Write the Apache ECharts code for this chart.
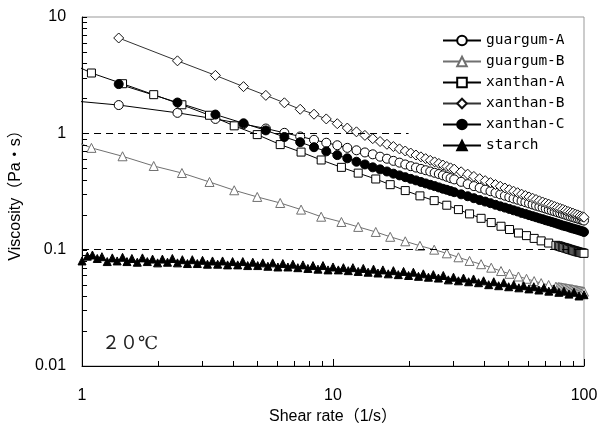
<!DOCTYPE html>
<html>
<head>
<meta charset="utf-8">
<script src="https://cdn.jsdelivr.net/npm/echarts@6/dist/echarts.min.js"></script>
<style>
html, body { margin: 0; padding: 0; background: #fff; }
#chart { width: 609px; height: 430px; }
</style>
</head>
<body>
<div id="chart"></div>
<script>
// shear rates (1/s)
var rateA = [0.82, 1.09, 1.45, 1.93, 2.5, 3.22, 4.04, 4.99, 6.16, 7.46, 8.97, 10.8, 12.6, 14.8, 16.9, 19.4, 22.2, 25.3, 28.4, 31.6, 35.0, 38.9, 42.7, 46.7, 50.5, 54.8, 59.0, 63.3, 67.5, 72.3, 77.3,
	79, 80, 81, 82, 83, 84, 85, 86, 87, 88, 89, 90, 91, 92, 93, 94, 95, 96, 97, 98, 99, 100];
var rateB = [1.4, 2.4, 3.4, 4.4, 5.4, 6.4, 7.4, 8.4, 9.4, 10.4, 11.4, 12.4, 13.4, 14.4, 15.4, 16.4, 17.4, 18.4, 19.4, 20.4,
	21.4, 22.4, 23.4, 24.4, 25.4, 26.4, 27.4, 28.4, 29.4, 30.4, 32.4, 34.4, 36.4, 38.4, 40.4, 42.4, 44.4, 46.4, 48.4, 50.4,
	52.4, 54.4, 56.4, 58.4, 60.4, 62.4, 64.4, 66.4, 68.4, 70.4, 72.4, 74.4, 76.4, 78.4, 80.4, 82.4, 84.4, 86.4, 88.4, 90.4,
	92.4, 94.4, 96.4, 98.4, 100];
var rateGA = [0.44].concat(rateB);
var rateS = [1.00, 1.05, 1.10, 1.15, 1.20, 1.26, 1.32, 1.38, 1.45, 1.51, 1.58, 1.66, 1.74, 1.82, 1.91, 2.00, 2.09, 2.19, 2.29, 2.40,
	2.51, 2.63, 2.75, 2.88, 3.02, 3.16, 3.31, 3.47, 3.63, 3.80, 3.98, 4.17, 4.37, 4.57, 4.79, 5.01, 5.25, 5.50, 5.75, 6.03,
	6.31, 6.61, 6.92, 7.24, 7.59, 7.94, 8.32, 8.71, 9.12, 9.55, 10.0, 10.5, 11.0, 11.5, 12.0, 12.6, 13.2, 13.8, 14.5, 15.1,
	15.8, 16.6, 17.4, 18.2, 19.1, 20.0, 20.9, 21.9, 22.9, 24.0, 25.1, 26.3, 27.5, 28.8, 30.2, 31.6, 33.1, 34.7, 36.3, 38.0,
	39.8, 41.7, 43.7, 45.7, 47.9, 50.1, 52.5, 55.0, 57.5, 60.3, 63.1, 66.1, 69.2, 72.4, 75.9, 79.4, 83.2, 87.1, 91.2, 95.5, 100];

// viscosity (Pa·s)
var guargumA = [2.2, 1.75, 1.50, 1.33, 1.20, 1.10, 1.01, 0.94, 0.88, 0.83, 0.79, 0.75, 0.715, 0.685, 0.66, 0.63, 0.605, 0.58, 0.56, 0.54,
	0.522, 0.508, 0.495, 0.482, 0.47, 0.458, 0.447, 0.435, 0.423, 0.412, 0.402, 0.383, 0.366, 0.352, 0.340, 0.328, 0.318, 0.308, 0.299, 0.291,
	0.283, 0.275, 0.2685, 0.262, 0.256, 0.250, 0.2445, 0.239, 0.2345, 0.230, 0.2255, 0.221, 0.217, 0.2135, 0.2095, 0.206, 0.2025, 0.1995, 0.196, 0.193,
	0.190, 0.1875, 0.185, 0.182, 0.180, 0.178];
var guargumB = [0.95, 0.75, 0.635, 0.524, 0.456, 0.382, 0.324, 0.284, 0.252, 0.221, 0.192, 0.173, 0.157, 0.142, 0.129, 0.118, 0.108, 0.100, 0.093, 0.086,
	0.080, 0.075, 0.070, 0.0655, 0.0620, 0.0588, 0.0562, 0.0537, 0.0516, 0.0497, 0.0481,
	0.0478, 0.0476, 0.0475, 0.0472, 0.0470, 0.0469, 0.0466, 0.0464, 0.0463, 0.0460, 0.0458, 0.0457, 0.0454, 0.0452, 0.0451, 0.0448, 0.0446, 0.0445, 0.0442, 0.0440, 0.0439, 0.0436];
var xanthanA = [4.4, 3.30, 2.67, 2.15, 1.76, 1.43, 1.16, 0.975, 0.80, 0.69, 0.59, 0.51, 0.455, 0.405, 0.362, 0.322, 0.290, 0.264, 0.241, 0.221,
	0.203, 0.186, 0.171, 0.159, 0.149, 0.139, 0.132, 0.125, 0.119, 0.114, 0.109,
	0.108, 0.107, 0.106, 0.105, 0.1045, 0.1035, 0.103, 0.102, 0.101, 0.1005, 0.0995, 0.099, 0.098, 0.0975, 0.097, 0.096, 0.0955, 0.095, 0.0945, 0.094, 0.0935, 0.093];
var xanthanB = [6.6, 4.2, 3.15, 2.52, 2.12, 1.83, 1.61, 1.46, 1.33, 1.21, 1.11, 1.03, 0.96, 0.90, 0.85, 0.805, 0.77, 0.735, 0.705, 0.677,
	0.651, 0.628, 0.606, 0.586, 0.568, 0.551, 0.534, 0.519, 0.505, 0.492, 0.467, 0.446, 0.426, 0.408, 0.392, 0.377, 0.363, 0.351, 0.339, 0.328,
	0.318, 0.309, 0.300, 0.292, 0.284, 0.277, 0.270, 0.263, 0.257, 0.251, 0.246, 0.240, 0.235, 0.230, 0.226, 0.222, 0.217, 0.213, 0.209, 0.206,
	0.202, 0.199, 0.195, 0.192, 0.190];
var xanthanC = [2.65, 1.84, 1.45, 1.22, 1.06, 0.93, 0.84, 0.76, 0.70, 0.65, 0.61, 0.57, 0.54, 0.51, 0.49, 0.47, 0.45, 0.435, 0.420, 0.406,
	0.394, 0.382, 0.371, 0.361, 0.352, 0.343, 0.334, 0.327, 0.319, 0.312, 0.299, 0.288, 0.277, 0.267, 0.259, 0.251, 0.243, 0.236, 0.230, 0.224,
	0.218, 0.213, 0.207, 0.203, 0.198, 0.194, 0.190, 0.186, 0.183, 0.179, 0.176, 0.173, 0.170, 0.167, 0.164, 0.161, 0.159, 0.157, 0.154, 0.152,
	0.150, 0.148, 0.146, 0.144, 0.142];
var starch = [0.080, 0.088, 0.090, 0.084, 0.087, 0.079, 0.085, 0.080, 0.086, 0.079, 0.084, 0.078, 0.085, 0.079, 0.083, 0.077, 0.083, 0.078, 0.084, 0.077,
	0.082, 0.076, 0.082, 0.076, 0.081, 0.075, 0.080, 0.075, 0.080, 0.074, 0.079, 0.074, 0.079, 0.073, 0.078, 0.073, 0.077, 0.072, 0.077, 0.071,
	0.076, 0.071, 0.075, 0.070, 0.074, 0.069, 0.073, 0.068, 0.073, 0.067, 0.071, 0.067, 0.070, 0.066, 0.070, 0.065, 0.069, 0.064, 0.068, 0.063,
	0.067, 0.062, 0.066, 0.061, 0.065, 0.060, 0.064, 0.059, 0.062, 0.058, 0.061, 0.057, 0.060, 0.055, 0.058, 0.054, 0.057, 0.053, 0.056, 0.052,
	0.054, 0.050, 0.053, 0.049, 0.052, 0.048, 0.050, 0.047, 0.049, 0.046, 0.048, 0.045, 0.047, 0.044, 0.046, 0.043, 0.044, 0.0415, 0.043, 0.040, 0.041];

// ticks
var majorX = [1, 10, 100];
var minorX = [2, 3, 4, 5, 6, 7, 8, 9, 20, 30, 40, 50, 60, 70, 80, 90];
var majorY = [0.01, 0.1, 1, 10];
var minorY = [0.02, 0.03, 0.04, 0.05, 0.06, 0.07, 0.08, 0.09, 0.2, 0.3, 0.4, 0.5, 0.6, 0.7, 0.8, 0.9, 2, 3, 4, 5, 6, 7, 8, 9];

// dashed guide lines [x from, x to, y]
var guides = [[1, 20, 1], [1, 100, 0.1]];

var names = ['guargum-A', 'guargum-B', 'xanthan-A', 'xanthan-B', 'xanthan-C', 'starch'];

function pairs(xs, ys) {
	var out = [];
	for (var i = 0; i < xs.length && i < ys.length; i++) out.push([xs[i], ys[i]]);
	return out;
}

var sansFont = "'Liberation Sans', 'Noto Sans CJK JP', sans-serif";

function mkSeries(name, xs, ys, symbol, size, fill, stroke, lineColor) {
	return {
		name: name,
		type: 'line',
		data: pairs(xs, ys),
		symbol: symbol,
		symbolSize: size,
		clip: true,
		silent: true,
		itemStyle: { color: fill, borderColor: stroke, borderWidth: 1 },
		lineStyle: { color: lineColor, width: 1 },
		emphasis: { disabled: true }
	};
}

// inward ticks at 1..9 of each decade, drawn through the axes' own scale
function tickSeries(axis) {
	var vals = axis === 'x' ? majorX.concat(minorX) : majorY.concat(minorY);
	var majors = axis === 'x' ? majorX : majorY;
	return {
		type: 'custom', silent: true, z: 5, clip: false,
		data: vals.map(function (v) { return [v, majors.indexOf(v) >= 0 ? 1 : 0]; }),
		encode: axis === 'x' ? { x: 0 } : { y: 0 },
		renderItem: function (params, api) {
			var v = api.value(0), major = api.value(1);
			var p, shape;
			if (axis === 'x') {
				p = api.coord([v, 0.01]);
				var x = Math.round(p[0]) + 0.5;
				shape = { x1: x, y1: p[1], x2: x, y2: p[1] - (major ? 7 : 5) };
			} else {
				p = api.coord([1, v]);
				var y = Math.round(p[1]) + 0.5;
				shape = { x1: p[0], y1: y, x2: p[0] + 5, y2: y };
			}
			return { type: 'line', shape: shape, style: { stroke: '#000', lineWidth: 1 } };
		}
	};
}

var chart = echarts.init(document.getElementById('chart'), null, { renderer: 'canvas' });
var option = {
	animation: false,
	backgroundColor: '#fff',
	grid: { left: 77, right: 25, top: 17, bottom: 62, show: true, borderColor: '#999', borderWidth: 1 },
	legend: {
		data: names,
		orient: 'vertical',
		left: 437,
		top: 28,
		itemWidth: 38,
		itemHeight: 12,
		itemGap: 6,
		selectedMode: false,
		textStyle: { fontFamily: "'DejaVu Sans Mono', monospace", fontSize: 14.5, color: '#000', lineHeight: 14 }
	},
	xAxis: {
		type: 'log', logBase: 10, min: 1, max: 100, position: 'bottom',
		axisLine: { onZero: false, lineStyle: { color: '#000', width: 1 } },
		axisTick: { show: false },
		axisLabel: { margin: 22, fontSize: 16, fontFamily: sansFont, color: '#000',
			formatter: function (v) { return String(v); } },
		splitLine: { show: false },
		name: 'Shear rate（1/s）', nameLocation: 'middle', nameGap: 43,
		nameTextStyle: { fontSize: 16, fontFamily: sansFont, color: '#000' }
	},
	yAxis: {
		type: 'log', logBase: 10, min: 0.01, max: 10, position: 'left',
		axisLine: { onZero: false, lineStyle: { color: '#000', width: 1 } },
		axisTick: { show: false },
		axisLabel: { margin: 16, fontSize: 16, fontFamily: sansFont, color: '#000',
			formatter: function (v) { return String(v); } },
		splitLine: { show: false },
		name: 'Viscosity（Pa・s）', nameLocation: 'middle', nameGap: 47,
		nameTextStyle: { fontSize: 16, fontFamily: sansFont, color: '#000' }
	},
	graphic: [{
		type: 'text', left: 102, top: 335, silent: true,
		style: { text: '２０℃', fontSize: 18, fontFamily: "'Liberation Serif', 'DejaVu Serif', 'Noto Sans CJK JP', serif", fill: '#222' }
	}],
	series: [
		{
			name: 'guides', type: 'line', data: [], z: 1, silent: true,
			markLine: {
				silent: true, symbol: 'none', label: { show: false },
				lineStyle: { color: '#000', width: 1, type: [7, 5] },
				data: guides.map(function (g) { return [{ coord: [g[0], g[2]] }, { coord: [g[1], g[2]] }]; })
			}
		},
		tickSeries('x'),
		tickSeries('y'),
		mkSeries('guargum-A', rateGA, guargumA, 'circle', 9, '#fff', '#000', '#000'),
		mkSeries('guargum-B', rateA, guargumB, 'triangle', 9, '#fff', '#707070', '#707070'),
		mkSeries('xanthan-A', rateA, xanthanA, 'rect', 8, '#fff', '#000', '#000'),
		mkSeries('xanthan-B', rateB, xanthanB, 'diamond', 10, '#fff', '#111', '#333'),
		mkSeries('xanthan-C', rateB, xanthanC, 'circle', 9, '#000', '#000', '#000'),
		mkSeries('starch', rateS, starch, 'triangle', 8, '#000', '#000', '#000')
	]
};
chart.setOption(option);
</script>
</body>
</html>
